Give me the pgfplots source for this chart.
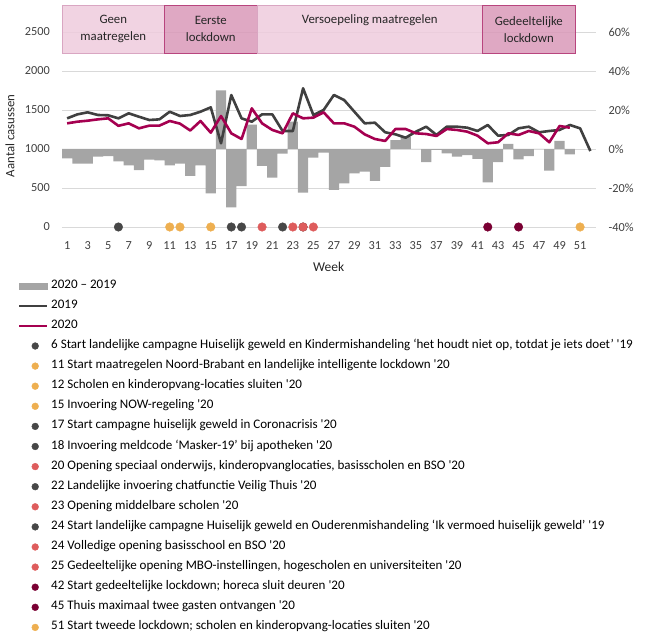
\documentclass[border=0pt]{standalone}
\usepackage{fontspec}
\setmainfont{Carlito}[Ligatures=TeXOff]
\usepackage{pgfplots}
\usepackage{pgfplotstable}
\pgfplotsset{compat=1.18}
\definecolor{barcol}{HTML}{A5A5A5}
\definecolor{c2019}{HTML}{404040}
\definecolor{c2020}{HTML}{A50050}
\definecolor{gridcol}{HTML}{D9D9D9}
\definecolor{tickcol}{HTML}{404040}
\definecolor{dgray}{HTML}{474747}
\definecolor{dorange}{HTML}{EEAF50}
\definecolor{dred}{HTML}{DE5C5C}
\definecolor{dmaroon}{HTML}{7A0033}
\definecolor{boxlight}{HTML}{EFCBDD}
\definecolor{boxlightedge}{HTML}{D9A6C2}
\definecolor{boxdark}{HTML}{D999B9}
\definecolor{boxdarkedge}{HTML}{B8457E}

\pgfplotstableread{
week pct
1 -4.8
2 -7.5
3 -7.5
4 -3.9
5 -3.6
6 -6.3
7 -8.4
8 -10.9
9 -5.5
10 -5.8
11 -8.4
12 -7.5
13 -13.8
14 -8.4
15 -22.7
16 30
17 -29.9
18 -19
19 12.5
20 -8.7
21 -14.7
22 -2.4
23 14
24 -22.4
25 -4.4
26 -1.9
27 -21
28 -17.6
29 -12.5
30 -11.6
31 -16.4
32 -9.2
33 4.6
34 6.3
35 0
36 -6.7
37 -0.5
38 -2.2
39 -3.9
40 -3.1
41 -5.1
42 -17.1
43 -6.7
44 2.6
45 -5.3
46 -3.6
47 0
48 -11.1
49 4.1
50 -2.7
}\bardata

\pgfplotstableread{
week val
1 1393
2 1444
3 1470
4 1436
5 1432
6 1393
7 1457
8 1414
9 1372
10 1380
11 1478
12 1423
13 1436
14 1478
15 1534
16 1073
17 1692
18 1393
19 1350
20 1444
21 1444
22 1231
23 1231
24 1778
25 1436
26 1500
27 1692
28 1628
29 1478
30 1329
31 1337
32 1214
33 1188
34 1145
35 1222
36 1286
37 1180
38 1286
39 1286
40 1273
41 1231
42 1308
43 1171
44 1180
45 1265
46 1286
47 1214
48 1231
49 1244
50 1308
51 1265
52 974
}\dataA

\pgfplotstableread{
week val
1 1329
2 1350
3 1363
4 1380
5 1393
6 1297
7 1329
8 1265
9 1299
10 1300
11 1359
12 1325
13 1237
14 1359
15 1209
16 1423
17 1201
18 1128
19 1521
20 1329
21 1244
22 1201
23 1457
24 1393
25 1402
26 1470
27 1329
28 1329
29 1286
30 1188
31 1128
32 1103
33 1256
34 1256
35 1201
36 1192
37 1167
38 1256
39 1244
40 1222
41 1171
42 1073
43 1086
44 1201
45 1180
46 1231
47 1201
48 1086
49 1295
50 1273
}\dataB

\begin{document}
\begin{tikzpicture}[x=1pt,y=1pt]
\path[use as bounding box] (0,0) rectangle (648,634);
% right axis: percentage bars
\begin{axis}[
  at={(62pt,407pt)}, anchor=south west, scale only axis,
  width=533.5pt, height=222.3pt,
  xmin=0.5, xmax=52.5, ymin=-40, ymax=74,
  axis x line=none, axis y line*=right,
  y axis line style={draw=none},
  ytick={-40,-20,0,20,40,60}, ytick style={draw=none},
  /pgf/number format/assume math mode=true,
  yticklabel={\pgfmathprintnumber{\tick}\%},
  yticklabel style={anchor=west, inner sep=0pt, xshift=13pt, font=\fontsize{12.3}{14}\selectfont, text=tickcol},
  ymajorgrids, grid style={gridcol, line width=0.8pt},
]
\addplot[ybar, bar width=1, fill=barcol, draw=none] table[x=week,y=pct]{\bardata};
\end{axis}
% left axis: counts, lines, events
\begin{axis}[
  at={(62pt,407pt)}, anchor=south west, scale only axis,
  width=533.5pt, height=222.3pt,
  xmin=0.5, xmax=52.5, ymin=0, ymax=2850,
  clip=false,
  axis x line*=bottom, axis y line*=left,
  y axis line style={draw=none},
  x axis line style={-, draw=gridcol, line width=0.8pt},
  /pgf/number format/assume math mode=true,
  /pgf/number format/1000 sep={},
  xtick={1,3,...,51}, xtick style={draw=none}, major tick length=0pt,
  minor xtick={0.5,1.5,...,52.5}, minor tick length=4pt, tick align=outside,
  minor tick style={gridcol, line width=0.8pt},
  xticklabel style={anchor=base, inner sep=0pt, yshift=-22.3pt, font=\fontsize{12.3}{14}\selectfont, text=tickcol},
  ytick={0,500,...,2500}, ytick style={draw=none},
  yticklabel style={anchor=east, inner sep=0pt, xshift=-12pt, font=\fontsize{12.3}{14}\selectfont, text=tickcol},
  xlabel={Week},
  xlabel style={at={(axis description cs:0.5,0)}, anchor=base, yshift=-45pt, inner sep=0pt, font=\fontsize{13.5}{15}\selectfont, text=black!85},
  legend cell align=left,
  legend style={at={(axis description cs:0,0)}, anchor=north west, xshift=-44pt, yshift=-53.5pt,
    draw=none, fill=none, inner sep=0pt, row sep=10.1pt, column sep=3pt,
    font=\fontsize{13.05}{15}\selectfont,
    nodes={inner sep=0pt, text height=7.5pt, text depth=2.5pt}},
]
% header boxes
\addplot[forget plot, fill=boxlight, draw=boxlightedge, line width=0.8pt, fill opacity=0.85] coordinates {(0.5,2227) (10.5,2227) (10.5,2846) (0.5,2846)} -- cycle;
\addplot[forget plot, fill=boxdark, draw=boxdarkedge, line width=0.8pt, fill opacity=0.85] coordinates {(10.5,2227) (19.5,2227) (19.5,2846) (10.5,2846)} -- cycle;
\addplot[forget plot, fill=boxlight, draw=boxlightedge, line width=0.8pt, fill opacity=0.85] coordinates {(19.5,2227) (41.5,2227) (41.5,2846) (19.5,2846)} -- cycle;
\addplot[forget plot, fill=boxdark, draw=boxdarkedge, line width=0.8pt, fill opacity=0.85] coordinates {(41.5,2227) (50.5,2227) (50.5,2846) (41.5,2846)} -- cycle;
\begin{scope}[every node/.style={align=center, font=\fontsize{12.8}{17}\selectfont, text=black!85}]
\node at (axis cs:5.5,2536) {Geen\\maatregelen};
\node at (axis cs:15,2536) {Eerste\\lockdown};
\node at (axis cs:30.5,2650) {Versoepeling maatregelen};
\node at (axis cs:46,2536) {Gedeeltelijke\\lockdown};
\end{scope}
\node[rotate=90, anchor=center, inner sep=0pt, font=\fontsize{12.8}{14}\selectfont, text=black!85]
  at (axis description cs:-0.0975,0.41) {Aantal casussen};
% legend entry for the bars
\addlegendimage{legend image code/.code={\fill[barcol] (0pt,-3pt) rectangle (28pt,3pt);}}
\addlegendentry{2020 – 2019}
\addplot[c2019, line width=2.6pt, line join=round, no marks,
  legend image code/.code={\draw[c2019, line width=2pt] (0pt,0pt) -- (28pt,0pt);}]
  table[x=week,y=val]{\dataA};
\addlegendentry{2019}
\addplot[c2020, line width=2.6pt, line join=round, no marks,
  legend image code/.code={\draw[c2020, line width=2pt] (0pt,0pt) -- (28pt,0pt);}]
  table[x=week,y=val]{\dataB};
\addlegendentry{2020}
% events
\pgfplotsset{
  ev/.style={color=#1, only marks, mark=*, mark size=4.3pt, mark options={draw=none, fill=#1},
    legend image code/.code={\path (0pt,0pt) (28pt,0pt); \fill[#1] (16pt,0pt) circle (3.4pt);}}
}
\addplot[ev=dgray] coordinates {(6,0)};
\addlegendentry{6 Start landelijke campagne Huiselijk geweld en Kindermishandeling ‘het houdt niet op, totdat je iets doet’ '19}
\addplot[ev=dorange] coordinates {(11,0)};
\addlegendentry{11 Start maatregelen Noord-Brabant en landelijke intelligente lockdown '20}
\addplot[ev=dorange] coordinates {(12,0)};
\addlegendentry{12 Scholen en kinderopvang-locaties sluiten '20}
\addplot[ev=dorange] coordinates {(15,0)};
\addlegendentry{15 Invoering NOW-regeling '20}
\addplot[ev=dgray] coordinates {(17,0)};
\addlegendentry{17 Start campagne huiselijk geweld in Coronacrisis '20}
\addplot[ev=dgray] coordinates {(18,0)};
\addlegendentry{18 Invoering meldcode ‘Masker-19’ bij apotheken '20}
\addplot[ev=dred] coordinates {(20,0)};
\addlegendentry{20 Opening speciaal onderwijs, kinderopvanglocaties, basisscholen en BSO '20}
\addplot[ev=dgray] coordinates {(22,0)};
\addlegendentry{22 Landelijke invoering chatfunctie Veilig Thuis '20}
\addplot[ev=dred] coordinates {(23,0)};
\addlegendentry{23 Opening middelbare scholen '20}
\addplot[ev=dgray] coordinates {(24,0)};
\addlegendentry{24 Start landelijke campagne Huiselijk geweld en Ouderenmishandeling ‘Ik vermoed huiselijk geweld’ '19}
\addplot[ev=dred] coordinates {(24,0)};
\addlegendentry{24 Volledige opening basisschool en BSO '20}
\addplot[ev=dred] coordinates {(25,0)};
\addlegendentry{25 Gedeeltelijke opening MBO-instellingen, hogescholen en universiteiten '20}
\addplot[ev=dmaroon] coordinates {(42,0)};
\addlegendentry{42 Start gedeeltelijke lockdown; horeca sluit deuren '20}
\addplot[ev=dmaroon] coordinates {(45,0)};
\addlegendentry{45 Thuis maximaal twee gasten ontvangen '20}
\addplot[ev=dorange] coordinates {(51,0)};
\addlegendentry{51 Start tweede lockdown; scholen en kinderopvang-locaties sluiten '20}
\end{axis}
\end{tikzpicture}
\end{document}
